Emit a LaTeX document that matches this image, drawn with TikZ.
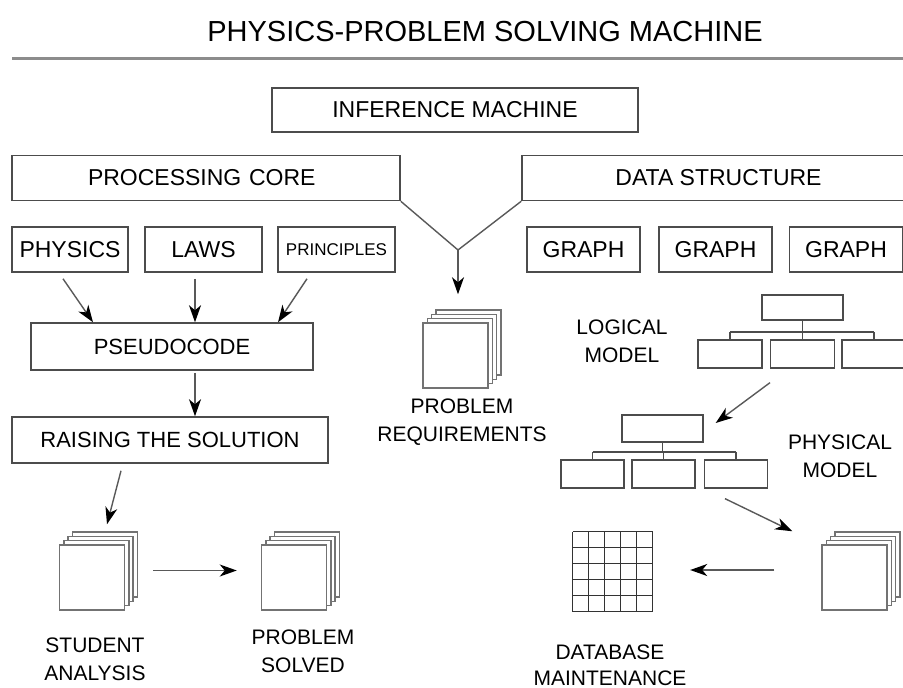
\documentclass[tikz,border=0pt]{standalone}
\usepackage{fontspec}
\setmainfont{Liberation Sans}
\usepackage{tikz}
\usetikzlibrary{arrows.meta,calc,positioning}
\newcommand{\boxfont}{\fontsize{23}{27}\selectfont}
\newcommand{\labfont}{\fontsize{21}{28}\selectfont}
% stack of sheets: name, x, y of the front sheet
\newcommand{\pagestack}[3]{%
  \foreach \k in {3,2,1}
    \node[page] at ({#2+4.3*\k},{#3-4.3*\k}) {};
  \node[page] (#1) at (#2,#3) {};
}

\begin{document}
\begin{tikzpicture}[x=1pt, y=-1pt,
  box/.style={draw=black!70, line width=1.5pt, inner sep=0pt, minimum height=45pt, font=\boxfont},
  leaf/.style={draw=black!70, line width=1.3pt, inner sep=0pt, minimum width=63pt, minimum height=28pt},
  page/.style={draw=black!55, fill=white, line width=1.5pt, minimum size=65pt, inner sep=0pt},
  lab/.style={align=center, font=\labfont},
  arr/.style={draw=black!65, line width=1.4pt, -{Stealth[length=17pt,width=12pt,inset=5pt,black]}}]
\useasboundingbox (0,0) rectangle (903,688);

\node[font=\fontsize{29}{34}\selectfont] (title) at (485,32) {PHYSICS-PROBLEM SOLVING MACHINE};
\draw[black!45, line width=3pt] (12,58) -- (903,58);

\node[box, minimum width=366pt, minimum height=44pt] (inf) at (455,110) {INFERENCE MACHINE};
\node[box, minimum width=388pt, text width=370pt, align=left] (core) at (206,178) {\hspace*{67pt}PROCESSING CORE};
\node[box, minimum width=393pt] (data) at (718.5,178) {DATA STRUCTURE};

\node[box, minimum width=116pt] (physics) at (70,249.5) {PHYSICS};
\node[box, minimum width=117pt] (laws) at (203.5,249.5) {LAWS};
\node[box, minimum width=117pt, font=\fontsize{17}{20}\selectfont] (princ) at (336.5,249.5) {PRINCIPLES};
\foreach \g/\x in {1/583.5,2/715.5,3/846}
  \node[box, minimum width=113pt] (graph\g) at (\x,249.5) {GRAPH};

\node[box, minimum width=282pt, minimum height=47pt, font=\fontsize{22}{26}\selectfont] (pseudo) at (172,346.5) {PSEUDOCODE};
\node[box, minimum width=316pt, minimum height=46pt, font=\fontsize{22}{26}\selectfont] (raising) at (170,440) {RAISING THE SOLUTION};

\pagestack{req}{455.5}{355.5}
\pagestack{student}{92}{577.5}
\pagestack{solved}{294}{577.5}
\pagestack{rstack}{854.5}{577.5}

\node[lab] (reqlab) at (462,422.5) {PROBLEM\\REQUIREMENTS};
\node[lab] (studlab) at (95,659) {STUDENT\\ANALYSIS};
\node[lab] (solvlab) at (303,651) {PROBLEM\\SOLVED};
\node[lab, font=\fontsize{21}{26}\selectfont] (dblab) at (610,665) {DATABASE\\MAINTENANCE};
\node[lab] (loglab) at (622,341) {LOGICAL\\MODEL};
\node[lab] (phylab) at (840,456.5) {PHYSICAL\\MODEL};

% logical model tree
\node[leaf, minimum width=81pt, minimum height=25pt] (lt) at (802.5,307.5) {};
\foreach \b/\x in {1/730,2/802.5,3/874}
  \node[leaf, minimum width=64pt] (lb\b) at (\x,354) {};
\coordinate (lbar) at (802.5,332);
\draw[black!70, line width=1.3pt] (lt) -- (lbar);
\draw[black!70, line width=1.3pt] (lb1.north |- lbar) -- (lb3.north |- lbar);
\foreach \b in {1,2,3}
  \draw[black!70, line width=1.3pt] (lb\b.north |- lbar) -- (lb\b.north);

% physical model tree
\node[leaf, minimum width=81pt, minimum height=27pt] (pt) at (662.5,428.5) {};
\foreach \b/\x in {1/592.5,2/663.5,3/736}
  \node[leaf] (pb\b) at (\x,474) {};
\coordinate (pbar) at (662.5,452);
\draw[black!70, line width=1.3pt] (pt) -- (pbar);
\draw[black!70, line width=1.3pt] (pb1.north |- pbar) -- (pb3.north |- pbar);
\foreach \b in {1,2,3}
  \draw[black!70, line width=1.3pt] (pb\b.north |- pbar) -- (pb\b.north);

% database grid
\node[inner sep=0pt, minimum size=80pt] (grid) at (613,572) {};
\foreach \i in {0,...,5} {
  \draw[black!80, line width=1.2pt] ($(grid.north west)+(16*\i,0)$) -- ($(grid.south west)+(16*\i,0)$);
  \draw[black!80, line width=1.2pt] ($(grid.north west)+(0,16*\i)$) -- ($(grid.north east)+(0,16*\i)$);
}

% connectors
\draw[black!65, line width=1.4pt] (core.south east) -- (458,250) coordinate (vtip) -- (data.south west);
\draw[arr] (vtip) -- ([xshift=2.5pt,yshift=28pt]req.north);

\draw[arr] ([xshift=-7pt,yshift=-6pt]physics.south) -- ([xshift=-79pt]pseudo.north);
\draw[arr] ([xshift=-8.5pt,yshift=-6pt]laws.south) -- ([xshift=-8.5pt]laws.south |- pseudo.north);
\draw[arr] ([xshift=-29.5pt,yshift=-6pt]princ.south) -- ([xshift=106pt]pseudo.north);
\draw[arr] ([xshift=23pt,yshift=-2pt]pseudo.south) -- ([xshift=23pt]pseudo.south |- raising.north);
\draw[arr] ([xshift=-49pt,yshift=-7pt]raising.south) -- ([xshift=15pt,yshift=20pt]student.north);
\draw[arr] ([xshift=28pt,yshift=7pt]student.east) -- ([xshift=-24pt,yshift=7pt]solved.west);

\draw[arr] ([xshift=-32.5pt,yshift=-14pt]lb2.south) -- ([xshift=12pt,yshift=5.5pt]pt.east);
\draw[arr] ([xshift=-11pt,yshift=-10pt]pb3.south) -- ([xshift=-29pt,yshift=13pt]rstack.north west);
\draw[arr] ([xshift=-47pt,yshift=7.5pt]rstack.west) -- ([xshift=37pt,yshift=2pt]grid.east);
\end{tikzpicture}
\end{document}
